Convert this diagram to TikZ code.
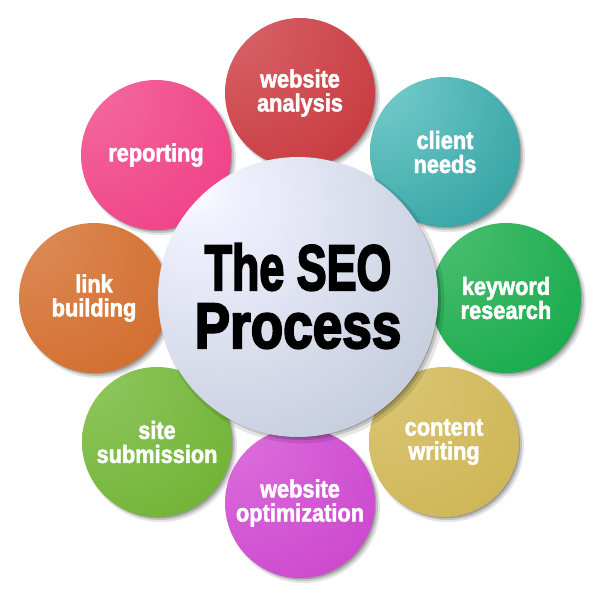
\documentclass[tikz,border=0pt]{standalone}
\usepackage{fontspec}
\usetikzlibrary{shadows,calc}
\newfontfamily\lblfont{Liberation Sans}[FakeStretch=0.87,FakeBold=2]
\newfontfamily\bigfont{Liberation Sans}[FakeBold=3.5]
\definecolor{hl}{HTML}{FFFFFF}
\definecolor{base}{HTML}{BEC7D8}
\pgfdeclareradialshading[hl,base]{orbshade}{\pgfpoint{-26bp}{26bp}}{color(0bp)=(hl); color(70bp)=(base); color(110bp)=(base)}
\pgfdeclareradialshading{centershade}{\pgfpoint{-19bp}{20bp}}{color(0bp)=(white); color(5bp)=(white!95!blue); color(48bp)=(base); color(100bp)=(base!92!black)}
\tikzset{
  softshadow/.style={
    general shadow={shadow xshift=3.5pt, shadow yshift=-3.5pt, fill=black, opacity=0.10, shadow scale=1.02},
    general shadow={shadow xshift=3pt, shadow yshift=-3pt, fill=black, opacity=0.15},
    general shadow={shadow xshift=2pt, shadow yshift=-2pt, fill=black, opacity=0.2, shadow scale=0.99}},
  orb/.style 2 args={circle, inner sep=0pt, minimum size=150pt, softshadow,
    /utils/exec={\definecolor{hl}{HTML}{#1}\definecolor{base}{HTML}{#2}}, shading=orbshade},
  hub/.style={circle, inner sep=0pt, minimum size=280pt, softshadow, shading=centershade},
  lbl/.style={align=center, text=white, inner sep=0pt, font=\lblfont\bfseries\fontsize{25}{24}\selectfont},
  hubtext/.style={align=center, text=black, inner sep=0pt, font=\bigfont\bfseries\fontsize{64}{58}\selectfont}
}
\begin{document}
\begin{tikzpicture}[x=1pt,y=-1pt]
\useasboundingbox (0,0) rectangle (606,606);
\node[orb={D8676C}{C1272D}] (wa) at (300,93) {};
\node[orb={7CCFCF}{14918F}] (cn) at (445,152) {};
\node[orb={50C074}{00A23C}] (kr) at (506,298) {};
\node[orb={DCC878}{C8AD48}] (cw) at (444,442) {};
\node[orb={DD72DD}{C535C8}] (wo) at (300,503) {};
\node[orb={92C862}{62AA22}] (ss) at (157,442) {};
\node[orb={DE8E5A}{CC5F1C}] (lb) at (94,298) {};
\node[orb={F56EA0}{EC2D7C}] (rp) at (156,155) {};
\node[hub] (hub) at (298,297) {};
\foreach \n/\t in {wa/{website\\analysis}, cn/{client\\needs}, kr/{keyword\\research},
  cw/{content\\writing}, wo/{website\\optimization}, ss/{site\\submission},
  lb/{link\\building}, rp/{reporting}} {
  \node[lbl] (\n-t) at (\n) {\t};
}
\node[hubtext] (hub-t) at (298,296) {\scalebox{0.7}[1]{The SEO}\\\scalebox{0.83}[1]{Process}};
\end{tikzpicture}
\end{document}
